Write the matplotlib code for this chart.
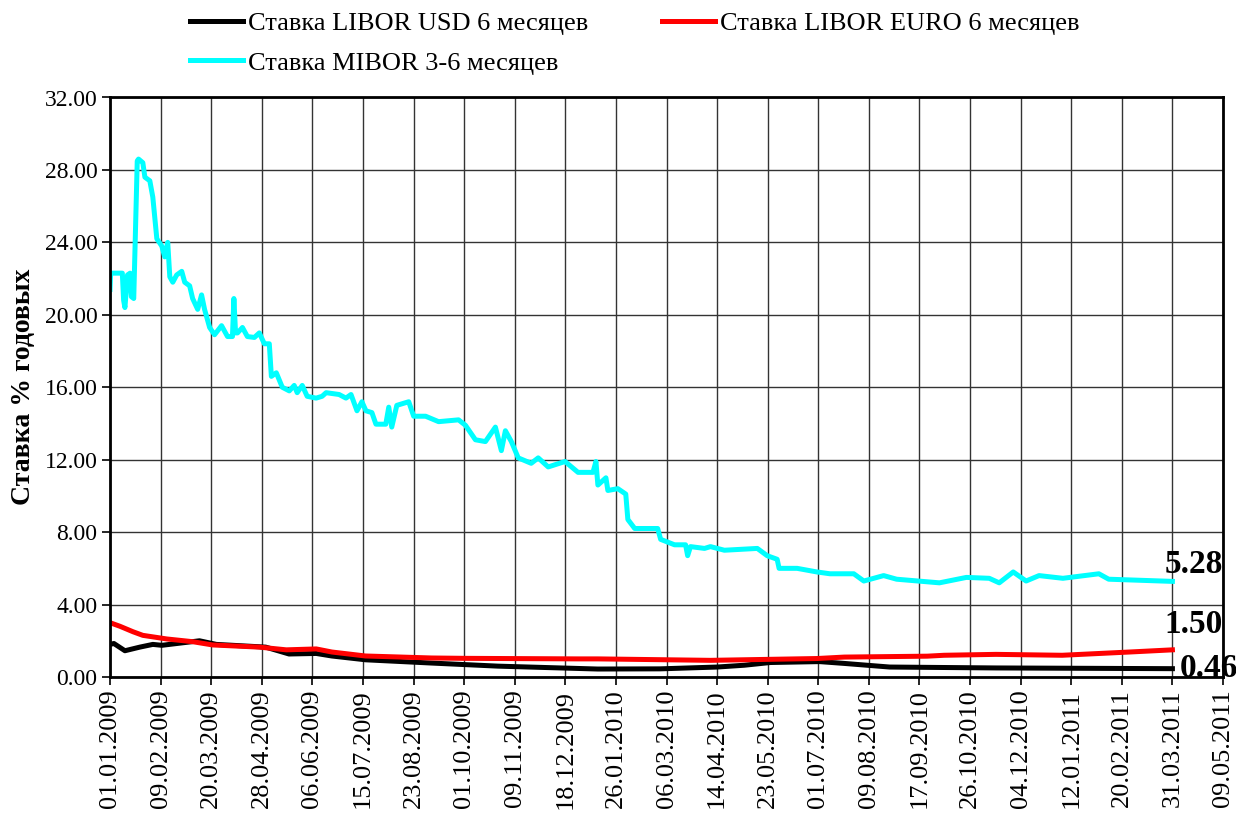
import numpy as np
import pandas as pd
import matplotlib
matplotlib.use("Agg")
import matplotlib.pyplot as plt

plt.rcParams['font.family'] = ['Liberation Serif', 'DejaVu Serif']

start = pd.Timestamp('2009-01-01')

# MIBOR 3-6 months, (days since 01.01.2009, % per year)
mibor_days = [0, 0.5, 9.5, 10.5, 11.5, 13.5, 15.5, 16.5, 18.3, 21, 22, 25.3, 26.9, 30.7,
              33.0, 36.1, 39.9, 42.2, 44.5, 46.1, 48.4, 51.4, 55.3, 57.6, 61.4, 63.7,
              67.6, 70.6, 72.9, 76.8, 80.6, 86.0, 90.6, 94.4, 95.5, 96.8, 98.3, 102.1,
              105.9, 111.3, 115.1, 119.0, 122.8, 124.4, 128.2, 130.5, 132.8, 138.2,
              142.0, 144.3, 148.2, 152.0, 158.9, 163.5, 166.6, 176.6, 181.9, 185.8,
              190.4, 194.2, 197.3, 201.9, 205.0, 212.6, 214.9, 217.2, 221.1, 230.3,
              234.1, 243.3, 253.3, 268.7, 274.0, 281.7, 289.4, 297.1, 301.7, 304.8,
              309.4, 314.7, 324.7, 330.1, 337.8, 350.8, 360.8, 372.3, 374.6, 376.1,
              382.3, 383.8, 391.5, 397.6, 399.2, 404.5, 422.2, 424.5, 435.2, 443.7,
              445.3, 447.5, 458.3, 462.9, 473.6, 499.0, 502.8, 506.6, 514.3, 515.8,
              529.7, 545.0, 555.0, 573.4, 581.1, 596.4, 606.4, 639.4, 660.2, 677.8,
              685.5, 696.3, 706.2, 716.2, 734.6, 762.3, 769.9, 819]
mibor_vals = [21.4, 22.3, 22.3, 20.8, 20.4, 22.2, 22.3, 21.0, 20.9, 28.5, 28.6, 28.4, 27.6, 27.4,
              26.5, 24.2, 23.8, 23.2, 24.0, 22.1, 21.8, 22.2, 22.4, 21.8, 21.6, 20.9,
              20.3, 21.1, 20.3, 19.3, 18.9, 19.4, 18.8, 18.8, 20.9, 19.0, 19.0, 19.3,
              18.8, 18.75, 19.0, 18.4, 18.4, 16.6, 16.8, 16.4, 16.0, 15.8,
              16.1, 15.7, 16.1, 15.5, 15.4, 15.5, 15.7, 15.6, 15.4, 15.6,
              14.7, 15.2, 14.7, 14.6, 13.96, 13.96, 14.9, 13.8, 15.0, 15.2,
              14.4, 14.4, 14.1, 14.2, 13.9, 13.1, 13.0, 13.8, 12.5, 13.6,
              13.0, 12.1, 11.8, 12.1, 11.6, 11.9, 11.3, 11.3, 11.9, 10.6,
              11.0, 10.3, 10.4, 10.1, 8.7, 8.2, 8.2, 7.6, 7.3, 7.3,
              6.7, 7.2, 7.1, 7.2, 7.0, 7.1, 6.9, 6.7, 6.5, 6.0,
              6.0, 5.8, 5.7, 5.7, 5.3, 5.6, 5.4, 5.2, 5.5, 5.45,
              5.2, 5.8, 5.3, 5.6, 5.45, 5.7, 5.4, 5.28]

# LIBOR EURO 6 months
euro_days = [0, 7.7, 17.7, 25.3, 43.8, 63.7, 79.1, 115.1, 135.9, 159, 171, 197, 248, 274,
             360.8, 376, 463, 545, 566, 630, 643, 683, 734, 786, 819]
euro_vals = [3.0, 2.8, 2.5, 2.3, 2.1, 1.95, 1.77, 1.65, 1.5, 1.55, 1.38, 1.16, 1.05, 1.03,
             1.0, 1.0, 0.92, 1.02, 1.1, 1.15, 1.2, 1.25, 1.2, 1.38, 1.50]

# LIBOR USD 6 months
usd_days = [0, 3, 11.5, 23, 33, 40, 69, 82, 120, 138, 159, 171, 197, 248, 299, 376, 424,
            468, 489, 509, 547, 566, 601, 683, 819]
usd_vals = [1.8, 1.85, 1.45, 1.65, 1.8, 1.75, 2.0, 1.8, 1.65, 1.27, 1.3, 1.16, 0.95, 0.77,
            0.6, 0.44, 0.45, 0.55, 0.65, 0.8, 0.85, 0.75, 0.55, 0.5, 0.46]

tick_days = np.arange(0, 859, 39)
tick_labels = [(start + pd.Timedelta(days=int(d))).strftime('%d.%m.%Y') for d in tick_days]

fig = plt.figure(figsize=(12.36, 8.21), dpi=100)
ax = fig.add_axes([110 / 1236, 144 / 821, 1113 / 1236, 579.5 / 821])

l_usd, = ax.plot(usd_days, usd_vals, color='black', lw=3.6, label='Ставка LIBOR USD 6 месяцев', zorder=3)
l_eur, = ax.plot(euro_days, euro_vals, color='#ff0000', lw=3.6, label='Ставка LIBOR EURO 6 месяцев', zorder=3)
l_mib, = ax.plot(mibor_days, mibor_vals, color='#00ffff', lw=3.6, label='Ставка MIBOR 3-6 месяцев', zorder=3)

# end-of-series value labels
ends = [(mibor_days[-1], mibor_vals[-1], (-8, 8)),
        (euro_days[-1], euro_vals[-1], (-8, 17)),
        (usd_days[-1], usd_vals[-1], (7, -8))]
for d, v, off in ends:
    ax.annotate(f'{v:.2f}', xy=(d, v), xytext=off, textcoords='offset pixels',
                fontsize=24, fontweight='bold', ha='left', va='baseline',
                annotation_clip=False, zorder=2)

ax.set_xlim(0, 858)
ax.set_ylim(0, 32)
ax.set_xticks(tick_days)
ax.set_xticklabels(tick_labels, rotation=90, fontsize=19)
ax.set_yticks(np.arange(0, 33, 4))
ax.set_yticklabels([f'{v:.2f}' for v in np.arange(0, 33, 4)], fontsize=17)
ax.tick_params(direction='out', length=6, width=1.2, pad=3)
ax.grid(True, color='#333333', lw=1)
ax.set_axisbelow(True)
for s in ax.spines.values():
    s.set_linewidth(2)
    s.set_zorder(4)

ax.set_ylabel('Ставка % годовых', fontsize=20, fontweight='bold', labelpad=6)

# legend filled by columns: USD / MIBOR in the first, EURO in the second
handles = [l_usd, l_mib, l_eur]
fig.legend(handles, [h.get_label() for h in handles], loc='upper left',
           bbox_to_anchor=(178 / 1236, 1.0), ncol=2, frameon=False,
           fontsize=19, handlelength=2.0, handletextpad=0.2, columnspacing=2.8,
           labelspacing=0.6, borderaxespad=0.05)

fig.savefig('out.png', dpi=100)
